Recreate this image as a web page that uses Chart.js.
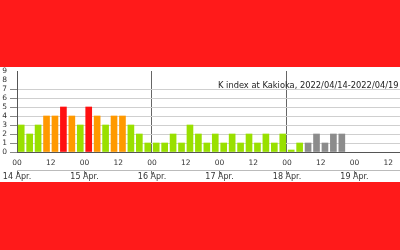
<!DOCTYPE html>
<html>
<head>
<meta charset="UTF-8">
<title>K index at Kakioka</title>
<script src="https://cdn.jsdelivr.net/npm/chart.js@4.4.0/dist/chart.umd.min.js"></script>
<style>
body { margin:0; background:#ff1a1a; }
#wrap { position:relative; width:400px; height:250px; }
#myChart { display:block; background:linear-gradient(#ff1a1a 0 67px, #fff 67px 182px, #ff1a1a 182px); }
#title { position:absolute; left:218px; top:80px; font-family:'DejaVu Sans'; font-size:8.3px; line-height:10px; color:#222; white-space:nowrap; }
</style>
</head>
<body>
<div id="wrap">
<canvas id="myChart" width="400" height="250"></canvas>
<div id="title">K index at Kakioka, 2022/04/14-2022/04/19</div>
</div>
<script>
// K index every 3 hours, starting 2022/04/14 00
var kFinal = [3,2,3,4,4,5,4,3, 5,4,3,4,4,3,2,1, 1,1,2,1,3,2,1,2, 1,2,1,2,1,2,1,2, 0,1];
var kPrelim = [1,2,1,2,2]; // preliminary values (gray)
var dayLabels = ['14 Apr.','15 Apr.','16 Apr.','17 Apr.','18 Apr.','19 Apr.'];
var hourLabels = ['00','12'];
var yTicks = [0,1,2,3,4,5,6,7,8,9];
var xMax = 136.18; // hours shown

function kColor(k) {
	if (k >= 5) return '#ff1010';
	if (k == 4) return '#ff9900';
	return '#99e000';
}

var finalData = kFinal.map(function(k, i) { return {x: i*3 + 1.5, y: k}; });
var prelimData = kPrelim.map(function(k, i) { return {x: (kFinal.length + i)*3 + 1.5, y: k}; });

Chart.defaults.font.family = 'DejaVu Sans';

var ctx = document.getElementById('myChart').getContext('2d');
var myChart = new Chart(ctx, {
	type: 'bar',
	data: {
		datasets: [{
			label: 'K',
			data: finalData,
			backgroundColor: kFinal.map(kColor),
			barThickness: 6,
			grouped: false,
			minBarLength: 2,
			borderWidth: 0
		}, {
			label: 'K (prelim)',
			data: prelimData,
			backgroundColor: '#8c8c8c',
			barThickness: 6,
			grouped: false,
			borderWidth: 0
		}]
	},
	options: {
		responsive: false,
		animation: false,
		layout: { padding: { top: 71, bottom: 68, left: 0, right: 0 } },
		plugins: { legend: { display: false }, tooltip: { enabled: false } },
		scales: {
			x: {
				type: 'linear', min: 0, max: xMax, position: 'bottom', offset: false,
				ticks: {
					stepSize: 12, includeBounds: false, autoSkip: false, maxRotation: 0,
					padding: 7, color: '#333', font: { size: 7.5 },
					callback: function(v) { return hourLabels[(v % 24) / 12]; }
				},
				grid: {
					offset: false, drawTicks: false,
					color: function(c) { return (c.tick && c.tick.value > 0 && c.tick.value % 48 == 0) ? '#666' : 'rgba(0,0,0,0)'; }
				},
				border: { color: '#555' },
				afterFit: function(s) { s.height = 18.5; }
			},
			x2: {
				type: 'linear', min: 0, max: xMax, position: 'bottom', offset: false,
				ticks: {
					stepSize: 24, includeBounds: false, autoSkip: false, maxRotation: 0,
					padding: -2, color: '#333', font: { size: 8 },
					callback: function(v) { return dayLabels[v / 24]; }
				},
				grid: { offset: false, drawOnChartArea: false, tickLength: 4, color: '#777' },
				border: { color: '#bbb' },
				afterFit: function(s) { s.height = 11.5; }
			},
			y: {
				min: 0, max: 9, position: 'left',
				afterBuildTicks: function(s) { s.ticks = yTicks.map(function(v) { return {value: v}; }); },
				ticks: { autoSkip: false, padding: 3, color: '#333', font: { size: 7.5 } },
				grid: {
					tickLength: 7,
					color: function(c) { var v = c.tick.value; return (v >= 1 && v <= 7) ? '#cfcfcf' : 'rgba(0,0,0,0)'; },
					tickColor: function(c) { return c.tick.value <= 7 ? '#888' : 'rgba(0,0,0,0)'; }
				},
				border: { color: '#555' },
				afterFit: function(s) { s.width = 17; }
			}
		}
	}
});
</script>
</body>
</html>
